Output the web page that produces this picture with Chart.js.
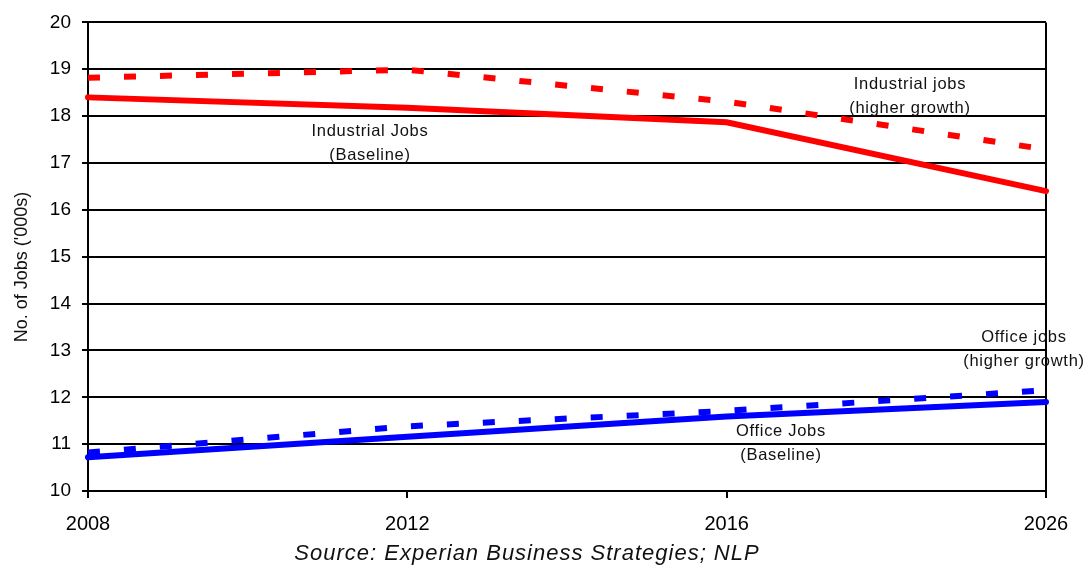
<!DOCTYPE html>
<html>
<head>
<meta charset="utf-8">
<script src="https://cdn.jsdelivr.net/npm/chart.js@4/dist/chart.umd.min.js"></script>
<style>
  html, body { margin: 0; padding: 0; background: #fff; }
  #wrap { width: 1092px; height: 570px; }
</style>
</head>
<body>
<div id="wrap"><canvas id="jobsChart"></canvas></div>
<script>
// Years on the category axis
const years = ['2008', '2012', '2016', '2026'];

// Jobs in '000s
const industrialBase = [18.40, 18.18, 17.87, 16.40];
const industrialHigh = [18.82, 18.99, 18.31, 17.29];
const officeBase = [10.72, 11.16, 11.59, 11.90];
const officeHigh = [10.82, 11.38, 11.71, 12.15];

const yTicks = [10, 11, 12, 13, 14, 15, 16, 17, 18, 19, 20];

// line labels: text, x as category position, y as value of first line
const noteLines = [
  { lines: ['Industrial Jobs', '(Baseline)'], x: 0.883, y: 17.68 },
  { lines: ['Industrial jobs', '(higher growth)'], x: 2.574, y: 18.67 },
  { lines: ['Office jobs', '(higher growth)'], x: 2.931, y: 13.27 },
  { lines: ['Office Jobs', '(Baseline)'], x: 2.170, y: 11.27 }
];

const FONT = '"Liberation Sans", Arial, Helvetica, sans-serif';

// Draws the line labels, y title and source note
const notesPlugin = {
  id: 'notes',
  afterDraw(chart) {
    const ctx = chart.ctx;
    const xs = chart.scales.x;
    const ys = chart.scales.y;
    ctx.save();
    ctx.fillStyle = '#111';
    ctx.textAlign = 'center';
    ctx.textBaseline = 'middle';
    ctx.font = '16.5px ' + FONT;
    ctx.letterSpacing = '0.7px';
    noteLines.forEach(n => {
      const px = xs.getPixelForValue(n.x);
      const py = ys.getPixelForValue(n.y);
      n.lines.forEach((t, i) => ctx.fillText(t, px, py + i * 24));
    });

    // y axis title
    ctx.save();
    ctx.translate(22, 267);
    ctx.rotate(-Math.PI / 2);
    ctx.font = '18px ' + FONT;
    ctx.letterSpacing = '0px';
    ctx.fillText("No. of Jobs ('000s)", 0, 0);
    ctx.restore();

    // source line
    ctx.font = 'italic 22px ' + FONT;
    ctx.letterSpacing = '1px';
    ctx.fillText('Source: Experian Business Strategies; NLP', 527, 554);
    ctx.restore();
  }
};

const lineStyle = {
  borderWidth: 6,
  pointRadius: 0,
  pointHoverRadius: 0,
  tension: 0,
  fill: false,
  clip: false
};

new Chart(document.getElementById('jobsChart'), {
  type: 'line',
  data: {
    labels: years,
    datasets: [
      { ...lineStyle, label: 'Industrial Jobs (Baseline)', data: industrialBase, borderColor: '#ff0000', borderCapStyle: 'round' },
      { ...lineStyle, label: 'Industrial jobs (higher growth)', data: industrialHigh, borderColor: '#ff0000', borderDash: [12, 24], borderCapStyle: 'butt' },
      { ...lineStyle, label: 'Office Jobs (Baseline)', data: officeBase, borderColor: '#0000ff', borderCapStyle: 'round' },
      { ...lineStyle, label: 'Office jobs (higher growth)', data: officeHigh, borderColor: '#0000ff', borderDash: [12, 24], borderCapStyle: 'butt' }
    ]
  },
  options: {
    responsive: true,
    maintainAspectRatio: false,
    animation: false,
    devicePixelRatio: 1,
    layout: { padding: { left: 0, right: 46, top: 17, bottom: 0 } },
    plugins: {
      legend: { display: false },
      tooltip: { enabled: false }
    },
    scales: {
      x: {
        offset: false,
        border: { display: true, color: '#000', width: 2 },
        grid: {
          drawOnChartArea: true,
          color: ctx => (ctx.index === years.length - 1 ? '#000' : 'rgba(0,0,0,0)'),
          lineWidth: 2,
          tickColor: '#000',
          tickLength: 7,
          tickWidth: 2
        },
        ticks: {
          color: '#000',
          font: { family: FONT, size: 20 },
          padding: 14,
          maxRotation: 0,
          autoSkip: false
        },
        afterFit(scale) { scale.height = 79; }
      },
      y: {
        min: 10,
        max: 20,
        afterBuildTicks(scale) { scale.ticks = yTicks.map(v => ({ value: v })); },
        border: { display: true, color: '#000', width: 2 },
        grid: {
          color: '#000',
          lineWidth: 2,
          tickColor: '#000',
          tickLength: 6,
          tickWidth: 2
        },
        ticks: {
          color: '#000',
          font: { family: FONT, size: 19 },
          padding: 11
        },
        afterFit(scale) { scale.width = 88; }
      }
    }
  },
  plugins: [notesPlugin]
});
</script>
</body>
</html>
